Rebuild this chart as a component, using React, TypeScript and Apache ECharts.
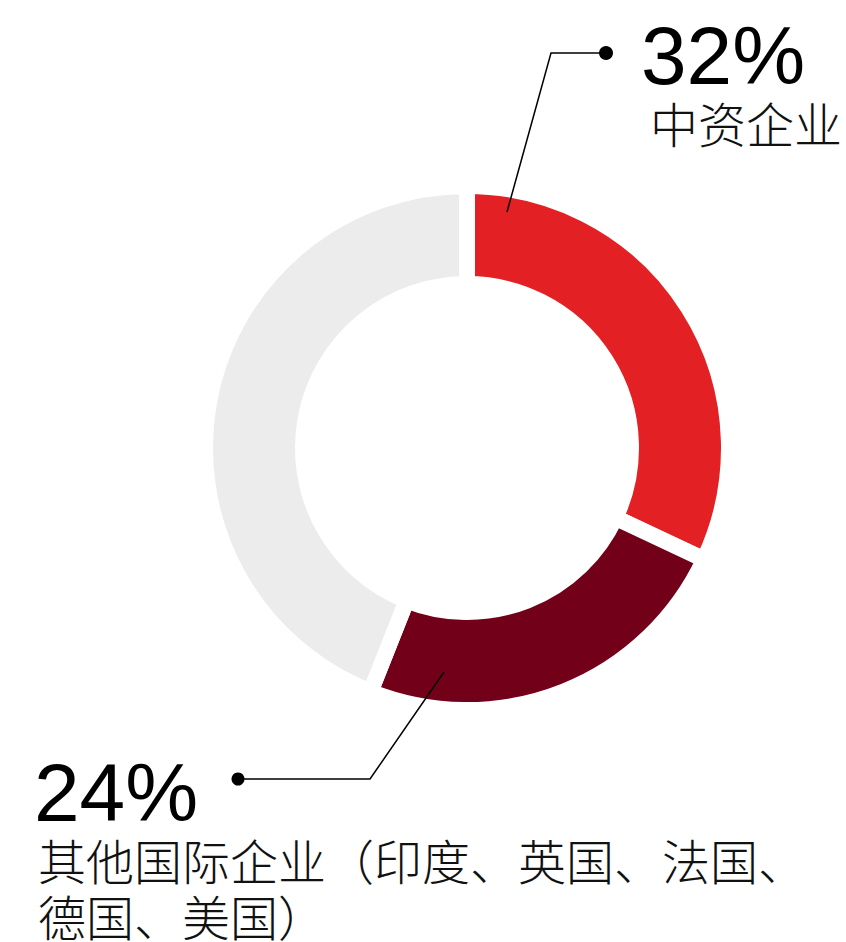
import React, { useEffect, useRef } from "react";
import * as echarts from "echarts";

const categories = ["中资企业", "其他国际企业（印度、英国、法国、德国、美国）", "其他"];
const values = [32, 24, 44];
const colors = ["#e32024", "#720019", "#ececec"];
const pctLabels = ["32%", "24%"];
const descLines1 = ["中资企业"];
const descLines2 = ["其他国际企业（印度、英国、法国、", "德国、美国）"];

export default function App() {
  const ref = useRef<HTMLDivElement>(null);
  useEffect(() => {
    if (!ref.current) return;
    const chart = echarts.init(ref.current, null, { renderer: "svg" });
    const numFont = "'Liberation Sans', Arial, sans-serif";
    const cjkFont = "'Noto Sans CJK SC', sans-serif";
    const lineStyle = { stroke: "#000", lineWidth: 1.5, fill: "none" };
    const numStyle = (text: string) => ({
      text,
      fontSize: 82,
      lineHeight: 64,
      fontWeight: "normal",
      fontFamily: numFont,
      fill: "#000",
      verticalAlign: "middle",
      align: "left",
    });
    const cjkStyle = (text: string) => ({
      text,
      fontSize: 48,
      lineHeight: 48,
      fontWeight: 300,
      fontFamily: cjkFont,
      fill: "#111",
      verticalAlign: "middle",
      align: "left",
    });
    chart.setOption({
      animation: false,
      backgroundColor: "#ffffff",
      series: [
        {
          type: "pie",
          center: [467, 448],
          radius: [164, 262],
          startAngle: 90,
          clockwise: true,
          z: 1,
          label: { show: false },
          labelLine: { show: false },
          emphasis: { disabled: true },
          itemStyle: { borderColor: "#ffffff", borderWidth: 16 },
          data: categories.map((name, i) => ({
            name,
            value: values[i],
            itemStyle: { color: colors[i] },
          })),
        },
      ],
      graphic: {
        elements: [
          {
            type: "group",
            z: 100,
            children: [
              {
                type: "polyline",
                z: 100,
                shape: { points: [[507, 212], [551, 53], [606, 53]] },
                style: lineStyle,
              },
              { type: "circle", z: 100, shape: { cx: 606, cy: 53, r: 7 }, style: { fill: "#000" } },
              {
                type: "polyline",
                z: 100,
                shape: { points: [[444, 672], [370, 779], [238, 779]] },
                style: lineStyle,
              },
              { type: "circle", z: 100, shape: { cx: 238, cy: 779, r: 6.5 }, style: { fill: "#000" } },
              { type: "text", z: 100, x: 641, y: 55, style: numStyle(pctLabels[0]) },
              { type: "text", z: 100, x: 650, y: 122, style: cjkStyle(descLines1[0]) },
              { type: "text", z: 100, x: 34, y: 792, style: numStyle(pctLabels[1]) },
              { type: "text", z: 100, x: 38, y: 859, style: cjkStyle(descLines2[0]) },
              { type: "text", z: 100, x: 38, y: 915, style: cjkStyle(descLines2[1]) },
            ],
          },
        ],
      },
    });
    return () => chart.dispose();
  }, []);
  return (
    <div
      ref={ref}
      style={{ position: "fixed", left: 0, top: 0, width: 846, height: 942, background: "#fff" }}
    />
  );
}
